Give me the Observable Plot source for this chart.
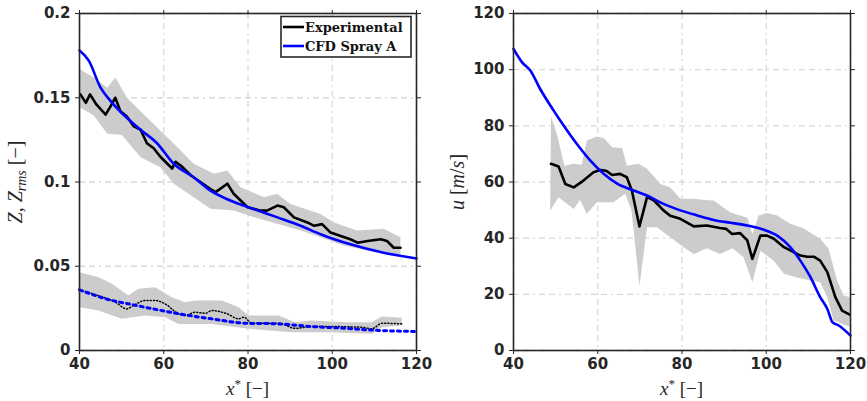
<!DOCTYPE html>
<html><head><meta charset="utf-8">
<script src="https://cdn.jsdelivr.net/npm/d3@7"></script>
<script src="https://cdn.jsdelivr.net/npm/@observablehq/plot@0.6"></script>
<style>
body{margin:0;background:#fff;}
#wrap{display:flex;width:867px;height:401px;}
</style>
</head><body><div id="wrap"></div>
<script>
// ---------- Left panel: mixture fraction Z and Z_rms ----------
const xTicks = [40, 60, 80, 100, 120];
const zTicks = [0, 0.05, 0.1, 0.15, 0.2];
const uTicks = [0, 20, 40, 60, 80, 100, 120];

const zExpX = [40.2,41.5,42.5,44,46.2,47.4,48.5,49.7,51.2,52.9,54.5,56,57.6,59.2,60.8,62,62.8,64.4,66.4,68.7,71,72.3,75.1,76.6,79.9,83,84.5,87,88.5,90.9,94.1,95.7,97.6,99.6,102,104.3,106,108.4,111.5,113,114.6,116.2];
const zExp  = [0.152,0.147,0.152,0.146,0.140,0.145,0.150,0.142,0.139,0.133,0.131,0.123,0.120,0.115,0.111,0.108,0.112,0.109,0.104,0.100,0.096,0.094,0.099,0.093,0.085,0.083,0.083,0.086,0.085,0.079,0.076,0.074,0.075,0.070,0.068,0.066,0.064,0.065,0.066,0.065,0.061,0.061];

const zHiX = [40,43.4,46.6,48.5,51.3,54.5,58.4,62.4,67.1,71.9,75.1,78.2,83.8,86.9,90.1,97.2,100.4,105.9,112.2,116.2];
const zHi  = [0.167,0.162,0.156,0.162,0.150,0.142,0.1325,0.1227,0.1108,0.1049,0.1068,0.0969,0.091,0.093,0.087,0.081,0.076,0.0712,0.0722,0.0672];
const zLoX = [40,43.4,46.6,50,54.5,59.2,62.4,67.1,71.1,76.6,81.4,86.9,92.5,97.2,102.8,108.4,116.2];
const zLo  = [0.1444,0.1395,0.1286,0.128,0.1147,0.1088,0.0989,0.091,0.0841,0.0831,0.0791,0.0752,0.0712,0.0672,0.0623,0.0593,0.0554];

const zCfdX = [40,42.2,45,47.4,54.5,58.4,62.3,67,71,75.8,81.3,87,92.5,97.2,104.3,112.2,120];
const zCfd  = [0.178,0.172,0.156,0.148,0.131,0.123,0.111,0.103,0.095,0.089,0.084,0.079,0.074,0.069,0.063,0.058,0.0546];

const rmsExpX = [40,44.5,48.5,51.2,52.8,55.6,58,60.3,63.5,65,67.5,69.9,71.4,75,77.8,79,80.9,87.2,91.2,95.2,99.9,107,109.4,111.8,116.5];
const rmsExp  = [0.036,0.0326,0.0287,0.0247,0.0267,0.0297,0.0297,0.0277,0.0218,0.0208,0.0227,0.0221,0.0237,0.0218,0.0188,0.0198,0.0162,0.0162,0.0132,0.0142,0.0142,0.0138,0.0129,0.0162,0.0158];

const rmsHiX = [40,44.5,47.7,51.6,54,58,61.9,65.1,67.4,73.8,77.8,80.1,87.2,91.2,95,103.1,109.4,111.8,116.5];
const rmsHi  = [0.0465,0.0435,0.0396,0.0326,0.0366,0.0376,0.0316,0.0287,0.0296,0.0296,0.0257,0.0208,0.0208,0.0168,0.0178,0.0168,0.0168,0.0202,0.0194];
const rmsLoX = [40,44.5,50,55.6,60.3,63.5,71.4,80.1,90.4,99,109.4,111.8,116.5];
const rmsLo  = [0.0257,0.0237,0.0188,0.0208,0.0198,0.0158,0.0158,0.0129,0.0109,0.0109,0.0099,0.0138,0.0148];

const rmsCfdX = [40,47.7,51.6,59.5,63.5,67.5,71.4,79.3,87.2,95.2,103.1,111,120];
const rmsCfd  = [0.036,0.0297,0.0277,0.0237,0.0218,0.0202,0.0188,0.0162,0.0158,0.0142,0.0132,0.0119,0.0113];

// ---------- Right panel: axial velocity u ----------
const uExpX = [48.9,50.7,52.3,54.3,56.6,59,60.6,62,63.4,65.3,66.9,68.1,69.9,71.7,73.3,75.6,77.2,79.6,82.8,85.9,89,90.5,91.9,93.8,95.5,96.7,98.6,100.2,101.8,104.2,106.5,108.1,109.7,111.3,112.8,114.5,116.4,118,119.8];
const uExp  = [66.5,65.5,59.3,58.1,60.5,63.5,64.3,64,62.5,62.9,61.7,57,44.2,54.6,53.5,49.9,48,46.9,44.2,44.5,43.6,43.3,41.5,41.8,39.2,32.6,40.9,40.9,39.8,36.8,35,33.8,33.4,33.4,32,27.9,19,14.2,12.8];

const uHiX = [48.9,50.3,52.1,54.3,56.2,57.4,59.8,61.5,63.4,65.8,66.9,69.7,71.7,74.9,77.2,79.6,82.8,86,87.5,91.5,95.5,96.7,98.2,100.2,102.6,105.7,108.8,112.8,114.8,116.8,118.4,119.8];
const uHi  = [83.3,77.1,65.8,66.5,66.1,74.8,76.2,75.6,72.4,72.1,65.8,66.5,64.7,59.3,58,54,54,53.5,53.4,49.1,47.3,41.5,48.1,49,48.1,45.1,43.5,39.8,36.2,24.9,19.6,19];
const uLoX = [48.7,50.7,54.3,55.8,57.4,59.8,63.7,66.5,68,69.9,71.7,74,77.2,80.4,82.8,85.9,89,92,94.6,96.7,98.6,101.8,104.2,107.3,110.5,112.8,114.5,116,119.8];
const uLo  = [49.8,54.6,50.4,53.6,48.7,52.8,52.8,55.8,50,23.1,43.9,43.9,40.4,36.8,34.4,36.4,34.4,36.4,33.2,24.3,35.5,32,27.3,26,24.9,24.3,19,10.7,8.5];

const uCfdX = [40,42,44,46.3,49.5,51.9,55,58.2,61.4,64.6,68.5,71.7,75.6,79.6,83.6,87.5,91.5,95.5,99.4,102.6,105.7,108.1,110.5,112.8,114.5,115.7,117.2,120];
const uCfd  = [107.4,102.7,99.7,93.2,85.5,80.1,73.6,67.7,62.9,59.4,57,55.2,52.2,49.9,48.1,46.5,45.5,44.5,43,40.9,36.8,32,26.1,19,14.8,10.1,8.9,5.3];

const legendLabels = ["Experimental", "CFD Spray A"];

// ---------- helpers ----------
const pts = (xs, ys) => xs.map((x, i) => ({x, y: ys[i]}));
const poly = (hx, hy, lx, ly) => [...pts(hx, hy), ...pts(lx, ly).reverse()];

const INK = "#262626";
const BAND = "#cccccc";
const GRID = {stroke: "#d9d9d9", strokeOpacity: 1, strokeWidth: 1.3, strokeDasharray: "6,4,6,4,2,4"};
const TXT = {fontSize: 15, fontWeight: "bold", fontFamily: "DejaVu Sans"};

function axes(yTicks) {
  return [
    Plot.gridX(xTicks, GRID),
    Plot.gridY(yTicks, GRID),
  ];
}
function frameAxes(yTicks, yFmt) {
  return [
    Plot.frame({stroke: INK, strokeWidth: 1.6}),
    Plot.axisX(xTicks, {anchor: "bottom", tickSize: 4, tickPadding: 4, label: null, ...TXT}),
    Plot.axisX(xTicks, {anchor: "top", tickSize: 4, tickFormat: () => "", label: null}),
    Plot.axisY(yTicks, {anchor: "left", tickSize: 4, tickPadding: 5, label: null, tickFormat: yFmt, ...TXT}),
    Plot.axisY(yTicks, {anchor: "right", tickSize: 4, tickFormat: () => "", label: null}),
  ];
}

const common = {
  height: 401, marginTop: 13, marginBottom: 51,
  style: {color: INK, background: "white", overflow: "visible"},
};

const left = Plot.plot({
  ...common, width: 433, marginLeft: 79, marginRight: 17,
  x: {domain: [40, 120]},
  y: {domain: [0, 0.2]},
  marks: [
    ...axes(zTicks),
    Plot.line(poly(zHiX, zHi, zLoX, zLo), {x: "x", y: "y", fill: BAND, stroke: "none"}),
    Plot.line(poly(rmsHiX, rmsHi, rmsLoX, rmsLo), {x: "x", y: "y", fill: BAND, stroke: "none"}),
    Plot.line(pts(zExpX, zExp), {x: "x", y: "y", stroke: "#000", strokeWidth: 2.6}),
    Plot.line(pts(zCfdX, zCfd), {x: "x", y: "y", stroke: "#0000ff", strokeWidth: 2.6, curve: "monotone-x"}),
    Plot.line(pts(rmsExpX, rmsExp), {x: "x", y: "y", stroke: "#000", strokeWidth: 1.5, strokeDasharray: "1,2.2", curve: "monotone-x"}),
    Plot.line(pts(rmsCfdX, rmsCfd), {x: "x", y: "y", stroke: "#0000ff", strokeWidth: 3, strokeDasharray: "3,4", curve: "monotone-x"}),
    ...frameAxes(zTicks, d => d === 0 ? "0" : String(d)),
  ]
});

const right = Plot.plot({
  ...common, width: 434, marginLeft: 80, marginRight: 17,
  x: {domain: [40, 120]},
  y: {domain: [0, 120]},
  marks: [
    ...axes(uTicks),
    Plot.line(poly(uHiX, uHi, uLoX, uLo), {x: "x", y: "y", fill: BAND, stroke: "none"}),
    Plot.line(pts(uExpX, uExp), {x: "x", y: "y", stroke: "#000", strokeWidth: 2.6}),
    Plot.line(pts(uCfdX, uCfd), {x: "x", y: "y", stroke: "#0000ff", strokeWidth: 2.6, curve: "monotone-x"}),
    ...frameAxes(uTicks, d => String(d)),
  ]
});

const wrap = document.getElementById("wrap");
wrap.appendChild(left);
wrap.appendChild(right);

// ---------- axis titles (math style) ----------
const MATH = "Liberation Serif";
function xTitle(svg, cx) {
  const t = d3.select(svg).append("text")
    .attr("x", cx).attr("y", 395).attr("text-anchor", "middle")
    .attr("font-family", MATH).attr("font-size", 19).attr("fill", INK);
  t.append("tspan").attr("font-style", "italic").text("x");
  t.append("tspan").attr("font-size", 13).attr("dy", -7).text("*");
  t.append("tspan").attr("dy", 7).text(" [\u2212]");
}
xTitle(left, 247.5);
xTitle(right, 80 + 168.5);

{
  const t = d3.select(left).append("text")
    .attr("transform", "translate(22,182) rotate(-90)").attr("text-anchor", "middle")
    .attr("font-family", MATH).attr("font-size", 20).attr("fill", INK);
  t.append("tspan").attr("font-style", "italic").text("Z");
  t.append("tspan").text(", ");
  t.append("tspan").attr("font-style", "italic").text("Z");
  t.append("tspan").attr("font-style", "italic").attr("font-size", 14).attr("dy", 4).text("rms");
  t.append("tspan").attr("dy", -4).text(" [\u2212]");
}
{
  const t = d3.select(right).append("text")
    .attr("transform", "translate(31,182) rotate(-90)").attr("text-anchor", "middle")
    .attr("font-family", MATH).attr("font-size", 20).attr("fill", INK);
  t.append("tspan").attr("font-style", "italic").text("u");
  t.append("tspan").text(" [");
  t.append("tspan").attr("font-style", "italic").text("m");
  t.append("tspan").text("/");
  t.append("tspan").attr("font-style", "italic").text("s");
  t.append("tspan").text("]");
}

// ---------- legend ----------
{
  const g = d3.select(left).append("g");
  g.append("rect").attr("x", 281).attr("y", 16.5).attr("width", 130).attr("height", 40.5)
    .attr("fill", "white").attr("stroke", INK).attr("stroke-width", 1.6);
  const cols = ["#000", "#0000ff"];
  legendLabels.forEach((lab, i) => {
    const y = 27 + i * 19;
    g.append("line").attr("x1", 283).attr("x2", 304).attr("y1", y).attr("y2", y)
      .attr("stroke", cols[i]).attr("stroke-width", 2.6);
    g.append("text").attr("x", 305).attr("y", y + 5).attr("text-anchor", "start")
      .attr("font-family", "DejaVu Serif")
      .attr("font-weight", "bold").attr("font-size", 13).attr("fill", "#111").text(lab);
  });
}
</script>
</body></html>
